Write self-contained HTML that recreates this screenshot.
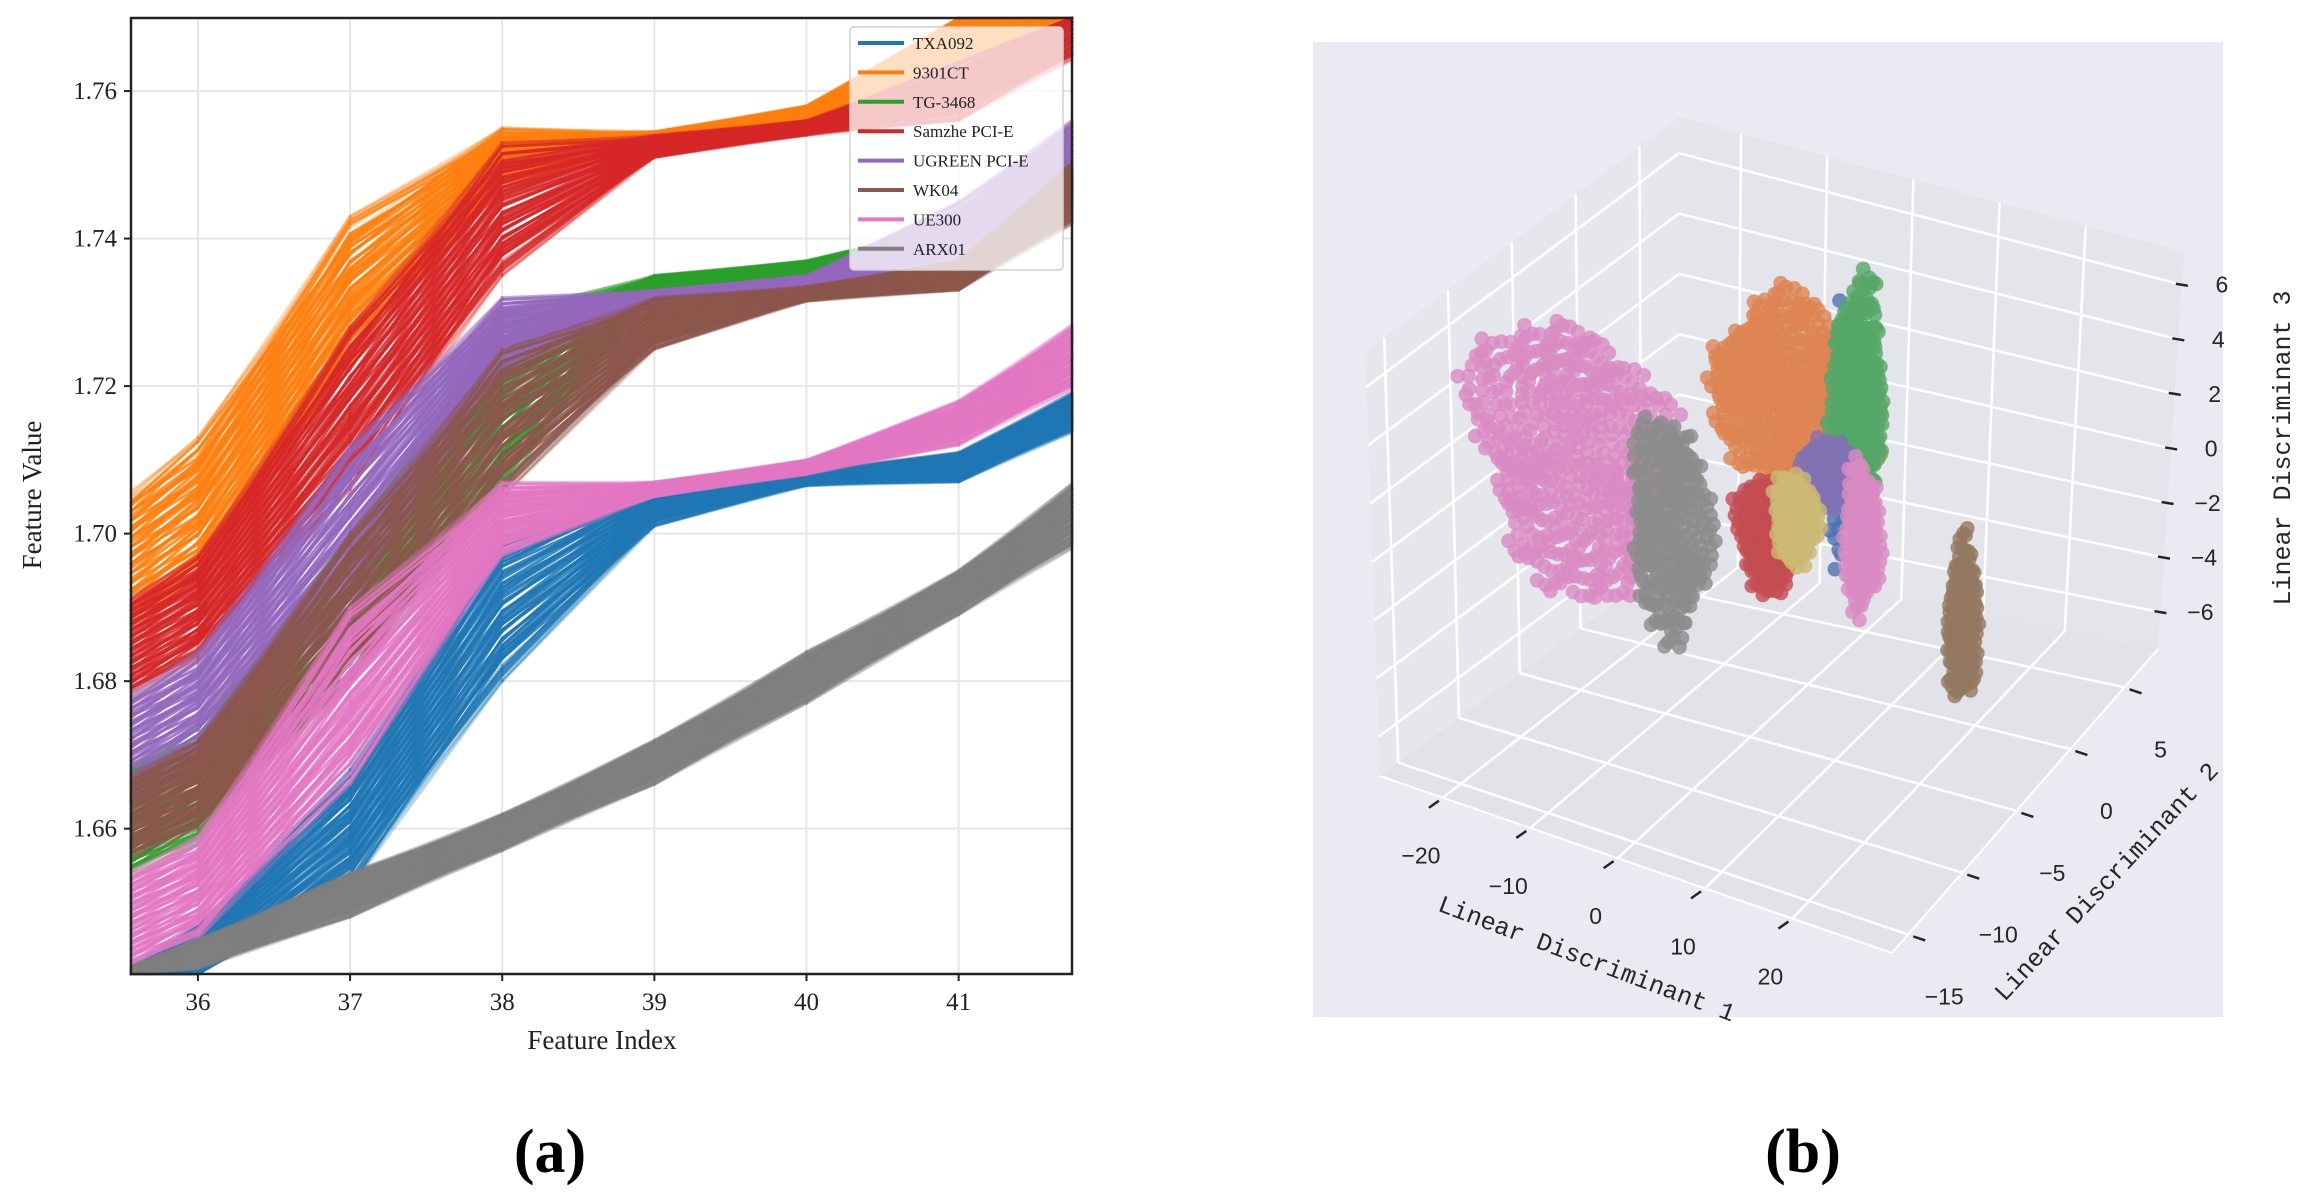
<!DOCTYPE html>
<html><head><meta charset="utf-8"><style>
html,body{margin:0;padding:0;background:#fff;}
svg{display:block;}
</style></head><body>
<svg id="fig" width="2319" height="1204" viewBox="0 0 2319 1204" xmlns="http://www.w3.org/2000/svg">
<g id="left"></g>
<g id="right"></g>
<text x="550" y="1172" font-family="Liberation Serif, serif" font-size="62" font-weight="bold" text-anchor="middle">(a)</text>
<text x="1803" y="1172" font-family="Liberation Serif, serif" font-size="62" font-weight="bold" text-anchor="middle">(b)</text>
</svg>
<script>
// ---------- Panel (a) data ----------
const featureIdx = [35,36,37,38,39,40,41,42];
const classNames = ["TXA092","9301CT","TG-3468","Samzhe PCI-E","UGREEN PCI-E","WK04","UE300","ARX01"];
const classColors = ["#1f77b4","#ff7f0e","#2ca02c","#d62728","#9467bd","#8c564b","#e377c2","#7f7f7f"];
const meanTXA092 = [1.630,1.643,1.660,1.690,1.704,1.7075,1.709,1.719];
const halfTXA092 = [0.005,0.004,0.008,0.010,0.003,0.001,0.002,0.003];
const mean9301CT = [1.688,1.703,1.733,1.751,1.7535,1.757,1.767,1.780];
const half9301CT = [0.009,0.010,0.010,0.004,0.001,0.001,0.003,0.005];
const meanTG3468 = [1.655,1.666,1.690,1.718,1.734,1.736,1.741,1.748];
const halfTG3468 = [0.008,0.008,0.010,0.012,0.001,0.001,0.001,0.002];
const meanSamzhe = [1.678,1.690,1.717,1.744,1.7525,1.755,1.760,1.772];
const halfSamzhe = [0.007,0.007,0.011,0.009,0.0015,0.001,0.004,0.005];
const meanUGREEN = [1.664,1.676,1.701,1.727,1.732,1.734,1.741,1.755];
const halfUGREEN = [0.008,0.008,0.011,0.005,0.001,0.001,0.004,0.005];
const meanWK04 = [1.656,1.666,1.690,1.715,1.7285,1.7325,1.735,1.750];
const halfWK04 = [0.006,0.006,0.010,0.010,0.0035,0.001,0.002,0.005];
const meanUE300 = [1.642,1.652,1.678,1.702,1.706,1.709,1.715,1.727];
const halfUE300 = [0.007,0.007,0.012,0.005,0.001,0.001,0.003,0.005];
const meanARX01 = [1.635,1.643,1.651,1.6595,1.669,1.6805,1.692,1.706];
const halfARX01 = [0.002,0.002,0.003,0.0025,0.003,0.0035,0.003,0.005];
const xTicksA = [36,37,38,39,40,41];
const yTicksA = [1.66,1.68,1.70,1.72,1.74,1.76];
const yTickLabelsA = ["1.66","1.68","1.70","1.72","1.74","1.76"];

// ---------- Panel (b) data ----------
const ld1Ticks = [-20,-10,0,10,20];
const ld2Ticks = [-15,-10,-5,0,5];
const ld3Ticks = [-6,-4,-2,0,2,4,6];
const clusterNames = ["pink-a","gray","blue","orange","green","purple","red","yellow","pink-b","brown"];
const clusterColors = ["#da8bc3","#8c8c8c","#4c72b0","#dd8452","#55a868","#8172b3","#c44e52","#ccb974","#da8bc3","#937860"];
const clusterLD1 = [-22.4,-11.2,9.0,3.0,10.1,6.9,0.0,3.3,10.9,22.8];
const clusterLD2 = [-3.7,-3.7,-3.7,-3.7,-3.7,-3.7,-3.7,-3.7,-3.7,-3.7];
const clusterLD3 = [0.0,-1.5,3.2,4.2,5.0,1.9,-0.8,0.0,0.0,-1.9];
const spreadLD1 = [11.5,4.6,2.6,9.6,3.0,3.0,3.6,2.7,2.2,1.8];
const spreadLD3 = [4.6,3.8,4.2,3.2,3.9,1.3,2.0,1.6,2.6,2.9];
const clusterCount = [520,260,120,520,260,90,160,110,130,150];

const NS="http://www.w3.org/2000/svg";
function mk(tag,attrs,parent){const e=document.createElementNS(NS,tag);for(const k in attrs)e.setAttribute(k,attrs[k]);parent.appendChild(e);return e;}

// ---------- Panel (a) ----------
(function(){
const g=document.getElementById('left');
const L=131,R=1072,T=18,B=974, xmin=35.56,xmax=41.745,ymin=1.6403,ymax=1.7699;
const sx=x=>L+(x-xmin)/(xmax-xmin)*(R-L);
const sy=y=>Math.max(T,Math.min(B,B-(y-ymin)/(ymax-ymin)*(B-T)));
const grid=mk('g',{},g);


xTicksA.forEach(t=>{mk('line',{x1:sx(t),x2:sx(t),y1:T,y2:B,stroke:'#e6e6e6','stroke-width':2},grid);});
yTicksA.forEach(t=>{mk('line',{x1:L,x2:R,y1:sy(t),y2:sy(t),stroke:'#e6e6e6','stroke-width':2},grid);});
const meansList=[meanTXA092,mean9301CT,meanTG3468,meanSamzhe,meanUGREEN,meanWK04,meanUE300,meanARX01];
const halfsList=[halfTXA092,half9301CT,halfTG3468,halfSamzhe,halfUGREEN,halfWK04,halfUE300,halfARX01];
const lines=mk('g',{},g);


const NL=60;
for(let ci=0;ci<meansList.length;ci++){
  const m=meansList[ci], hw=halfsList[ci];
  const sg=mk('g',{},lines);
  
  
  const n=featureIdx.length;
  for(let k=0;k<NL;k++){
    const f=-1+2*k/(NL-1);
    const f2=Math.sin(k*1.7)*0.35;
    const vals=[];
    for(let i=0;i<n;i++){let ff=f+f2*((i%2)?1:-1)*0.5; if(ff>1)ff=1; if(ff<-1)ff=-1; vals.push(Number(m[i])+ff*Number(hw[i]));}
    const xs=featureIdx.slice();
    xs[0]=xmin; vals[0]=vals[0]+(vals[1]-vals[0])*(xmin-featureIdx[0]);
    xs[n-1]=xmax; vals[n-1]=vals[n-2]+(vals[n-1]-vals[n-2])*(xmax-featureIdx[n-2]);
    const op=(Math.abs(f)>0.85?0.3:0.85);
    for(let i=0;i<n-1;i++){
      const x1=sx(xs[i]),y1=sy(vals[i]),x2=sx(xs[i+1]),y2=sy(vals[i+1]);
      if(!isFinite(x1)||!isFinite(y1)||!isFinite(x2)||!isFinite(y2)) continue;
      mk('line',{x1:x1.toFixed(1),y1:y1.toFixed(1),x2:x2.toFixed(1),y2:y2.toFixed(1),stroke:classColors[ci],'stroke-width':3,'stroke-opacity':op,'stroke-linecap':'round'},sg);
    }
  }
}
mk('rect',{x:L,y:T,width:R-L,height:B-T,fill:'none',stroke:'#222','stroke-width':2.5},g);
const ax=mk('g',{'font-family':'Liberation Serif, serif','font-size':25,fill:'#222'},g);


xTicksA.forEach(t=>{
  mk('line',{x1:sx(t),x2:sx(t),y1:B,y2:B+7,stroke:'#222','stroke-width':2},ax);
  const tx=mk('text',{x:sx(t),y:B+36,'text-anchor':'middle'},ax);tx.textContent=t;
  
  
});
yTicksA.forEach((t,i)=>{
  mk('line',{x1:L-7,x2:L,y1:sy(t),y2:sy(t),stroke:'#222','stroke-width':2},ax);
  const tx=mk('text',{x:L-14,y:sy(t)+8,'text-anchor':'end'},ax);tx.textContent=yTickLabelsA[i];
  
  
});
const xt=mk('text',{x:602,y:1049,'text-anchor':'middle','font-size':27},ax);xt.textContent='Feature Index';


const yt=mk('text',{x:0,y:0,'text-anchor':'middle','font-size':27,transform:'translate(41,495) rotate(-90)'},ax);yt.textContent='Feature Value';


const lg=mk('g',{},g);


mk('rect',{x:850,y:27,width:213,height:243,rx:4,fill:'#fff','fill-opacity':0.75,stroke:'#d0d0d0','stroke-width':1.5},lg);
classNames.forEach((nm,i)=>{
  const y=43+i*29.4;
  const e=mk('g',{},lg);
  
  
  mk('line',{x1:858,x2:904,y1:y,y2:y,stroke:classColors[i],'stroke-width':4},e);
  const t=mk('text',{x:913,y:y+6,'font-family':'Liberation Serif, serif','font-size':17,fill:'#222'},e);t.textContent=nm;
});
})();

// ---------- Panel (b) ----------
(function(){
const g=document.getElementById('right');
const bg=mk('rect',{x:1313,y:42,width:910,height:975,fill:'#eaeaf2'},g);


const X0=-27.2,X1=31.4,Y0=-16.5,Y1=8.1,Z0=-7.35,Z1=7.2;
const C={b00:[1380,776],b10:[1892,953],b11:[2158,649],b01:[1679,556]};
const H={h00:424,h10:420,h11:397,h01:439}, D={d00:-15,d10:8,d11:26,d01:0};
function proj(x,y,z){
  const u=(x-X0)/(X1-X0),v=(y-Y0)/(Y1-Y0),w=(z-Z0)/(Z1-Z0);
  const bl=(a,b,c,d)=>a*(1-u)*(1-v)+b*u*(1-v)+c*u*v+d*(1-u)*v;
  const bx=bl(C.b00[0],C.b10[0],C.b11[0],C.b01[0]), by=bl(C.b00[1],C.b10[1],C.b11[1],C.b01[1]);
  const h=bl(H.h00,H.h10,H.h11,H.h01), d=bl(D.d00,D.d10,D.d11,D.d01);
  return [bx+d*w, by-h*w];
}
const P=a=>a.map(p=>p[0].toFixed(1)+','+p[1].toFixed(1)).join(' ');
const panes=mk('g',{},g);


mk('polygon',{points:P([proj(X0,Y0,Z0),proj(X0,Y1,Z0),proj(X0,Y1,Z1),proj(X0,Y0,Z1)]),fill:'#e6e6ed'},panes);
mk('polygon',{points:P([proj(X0,Y1,Z0),proj(X1,Y1,Z0),proj(X1,Y1,Z1),proj(X0,Y1,Z1)]),fill:'#e4e4eb'},panes);
mk('polygon',{points:P([proj(X0,Y0,Z0),proj(X1,Y0,Z0),proj(X1,Y1,Z0),proj(X0,Y1,Z0)]),fill:'#e2e2e9'},panes);
const gl=(a,b)=>mk('line',{x1:a[0],y1:a[1],x2:b[0],y2:b[1],stroke:'#fff','stroke-width':2.5},panes);
ld2Ticks.forEach(t=>{gl(proj(X0,t,Z0),proj(X0,t,Z1));gl(proj(X0,t,Z0),proj(X1,t,Z0));});
ld1Ticks.forEach(t=>{gl(proj(t,Y1,Z0),proj(t,Y1,Z1));gl(proj(t,Y0,Z0),proj(t,Y1,Z0));});
ld3Ticks.forEach(t=>{gl(proj(X0,Y0,t),proj(X0,Y1,t));gl(proj(X0,Y1,t),proj(X1,Y1,t));});
[[proj(X0,Y0,Z0),proj(X1,Y0,Z0)],[proj(X1,Y0,Z0),proj(X1,Y1,Z0)]].forEach(e=>mk('line',{x1:e[0][0],y1:e[0][1],x2:e[1][0],y2:e[1][1],stroke:'#fff','stroke-width':2},panes));
const pts=mk('g',{},g);


clusterNames.forEach((n,ci)=>{
  const cg=mk('g',{},pts);
  
  
  const cnt=clusterCount[ci];
  for(let i=0;i<cnt;i++){
    const a=i*2.39996;
    const wob=1+0.12*Math.sin(3*a+ci)+0.08*Math.sin(5*a+2*ci)+0.06*Math.sin(i*0.713);
    const r=Math.sqrt((i+0.5)/cnt)*wob;
    const x=clusterLD1[ci]+spreadLD1[ci]*r*Math.cos(a);
    const z=clusterLD3[ci]+spreadLD3[ci]*r*Math.sin(a);
    const p=proj(x,clusterLD2[ci],z);
    mk('circle',{cx:p[0].toFixed(1),cy:p[1].toFixed(1),r:7,fill:clusterColors[ci],'fill-opacity':0.8,stroke:clusterColors[ci],'stroke-opacity':0.5,'stroke-width':1},cg);
  }
});
const ax=mk('g',{'font-family':'Liberation Sans, sans-serif','font-size':23,fill:'#262626'},g);


ld1Ticks.forEach(t=>{
  const p=proj(t,Y0,Z0);
  mk('line',{x1:p[0]-4,y1:p[1]+3,x2:p[0]-14,y2:p[1]+10,stroke:'#262626','stroke-width':2.5},ax);
  const tx=mk('text',{x:p[0]-22,y:p[1]+66,'text-anchor':'middle'},ax);tx.textContent=(t<0?'\u2212'+(-t):t);
  
  
});
ld2Ticks.forEach(t=>{
  const p=proj(X1,t,Z0);
  mk('line',{x1:p[0]+5,y1:p[1]+2,x2:p[0]+17,y2:p[1]+6,stroke:'#262626','stroke-width':2.5},ax);
  const tx=mk('text',{x:p[0]+36,y:p[1]+70,'text-anchor':'middle'},ax);tx.textContent=(t<0?'\u2212'+(-t):t);
  
  
});
ld3Ticks.forEach(t=>{
  const p=proj(X1,Y1,t);
  mk('line',{x1:p[0]-6,y1:p[1]-1,x2:p[0]+6,y2:p[1]+1,stroke:'#262626','stroke-width':2.5},ax);
  const tx=mk('text',{x:p[0]+40,y:p[1]+8,'text-anchor':'middle'},ax);tx.textContent=(t<0?'\u2212'+(-t):t);
  
  
});
const tf={'font-family':'Liberation Mono, monospace','font-size':25,fill:'#262626','text-anchor':'middle'};
const t1=mk('text',Object.assign({x:0,y:0,transform:'translate(1584,966) rotate(20.7)'},tf),ax);t1.textContent='Linear Discriminant 1';


const t2=mk('text',Object.assign({x:0,y:0,transform:'translate(2112,887) rotate(-47)'},tf),ax);t2.textContent='Linear Discriminant 2';


const t3=mk('text',Object.assign({x:0,y:0,transform:'translate(2290,448) rotate(-90)'},tf),ax);t3.textContent='Linear Discriminant 3';


})();
</script>
</body></html>
